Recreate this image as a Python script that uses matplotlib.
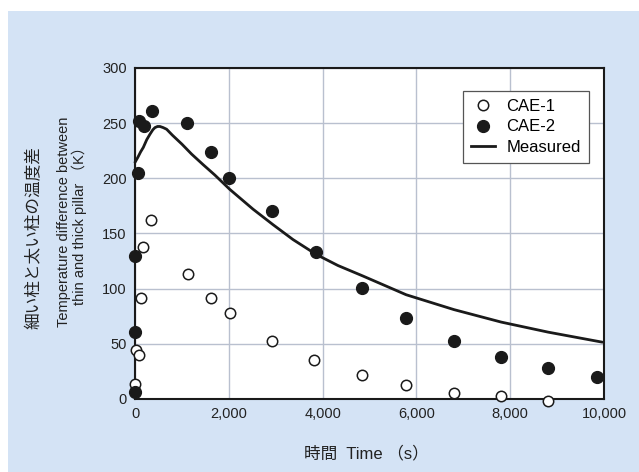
import matplotlib
matplotlib.use("Agg")
import matplotlib.pyplot as plt
from matplotlib.patches import Rectangle
from matplotlib.lines import Line2D

plt.rcParams['font.family'] = ['Liberation Sans', 'Noto Sans CJK JP', 'DejaVu Sans']

# CAE-1 (open circles)
cae1_t = [7, 15, 92, 121, 177, 340, 1121, 1624, 2021, 2930, 3823, 4844, 5787, 6802, 7809, 8809]
cae1_v = [14, 44.5, 40, 91.5, 138, 162, 113, 91.5, 78, 52.5, 35.5, 22, 13, 5.7, 3, -2]

# CAE-2 (filled circles)
cae2_t = [7, 7, 7, 57, 92, 191, 355, 1106, 1631, 2007, 2930, 3865, 4844, 5787, 6802, 7802, 8809, 9844]
cae2_v = [6.4, 61, 130, 205, 252, 247, 261, 250, 224, 200, 170.6, 133.4, 100.6, 73.4, 52.5, 38.5, 28, 20]

# Measured (line)
meas_t = [0, 60, 120, 177, 250, 319, 380, 426, 480, 532, 600, 674, 800, 1000, 1206, 1450, 1702,
          2021, 2518, 2943, 3369, 3865, 4326, 4858, 5781, 6802, 7809, 8809, 9965]
meas_v = [214.5, 219, 224, 228, 235, 240, 244, 246, 247, 247, 246, 244.5, 239, 231, 222, 212.5, 203,
          190, 172, 158, 144.5, 131, 121, 111.5, 94.5, 81, 69.7, 60.6, 51.5]

x_ticks = [0, 2000, 4000, 6000, 8000, 10000]
x_ticklabels = ['0', '2,000', '4,000', '6,000', '8,000', '10,000']
y_ticks = [0, 50, 100, 150, 200, 250, 300]

W, H = 639, 472
fig = plt.figure(figsize=(W / 100, H / 100), dpi=100)
fig.patch.set_facecolor('white')
bg = '#d4e3f5'
fig.patches.append(Rectangle((8 / W, 0), 1 - 8 / W, 1 - 11 / H, transform=fig.transFigure,
                             facecolor=bg, edgecolor='none', zorder=-10))

ax = fig.add_axes([135 / W, 1 - 399 / H, (604 - 135) / W, (399 - 68) / H])
ax.set_facecolor('white')
ax.set_xlim(0, 10000)
ax.set_ylim(0, 300)
ax.set_xticks(x_ticks)
ax.set_xticklabels(x_ticklabels)
ax.set_yticks(y_ticks)
ax.grid(True, color='#b9c0cf', linewidth=1.0)
ax.set_axisbelow(True)
for s in ax.spines.values():
    s.set_color('#1a1a1a')
    s.set_linewidth(1.5)
ax.tick_params(length=0, labelsize=10.5, colors='#222222', pad=6)

ax.plot(meas_t, meas_v, color='#1a1a1a', linewidth=2.0, zorder=3, clip_on=False,
        solid_joinstyle='round', solid_capstyle='round')
ax.plot(cae1_t, cae1_v, linestyle='none', marker='o', markersize=7.5,
        markerfacecolor='white', markeredgecolor='#1a1a1a', markeredgewidth=1.1,
        zorder=4, clip_on=False)
ax.plot(cae2_t, cae2_v, linestyle='none', marker='o', markersize=8.5,
        markerfacecolor='#1a1a1a', markeredgecolor='#1a1a1a',
        zorder=5, clip_on=False)

handles = [
    Line2D([], [], linestyle='none', marker='o', markersize=7.5, markerfacecolor='white',
           markeredgecolor='#1a1a1a', markeredgewidth=1.1),
    Line2D([], [], linestyle='none', marker='o', markersize=8.5, markerfacecolor='#1a1a1a',
           markeredgecolor='#1a1a1a'),
    Line2D([], [], color='#1a1a1a', linewidth=2.0),
]
leg = ax.legend(handles, ['CAE-1', 'CAE-2', 'Measured'], loc='upper right',
                bbox_to_anchor=(0.968, 0.932), fontsize=12, frameon=True, fancybox=False,
                edgecolor='#555555', framealpha=1, handlelength=1.4, handletextpad=0.7,
                borderpad=0.5, labelspacing=0.33, borderaxespad=0)
leg.get_frame().set_linewidth(0.9)

fig.text(366 / W, 1 - 453 / H, '時間  Time （s）', ha='center', va='center', fontsize=12,
         color='#222222')
fig.text(34 / W, 1 - 238 / H, '細い柱と太い柱の温度差', rotation=90, ha='center', va='center',
         fontsize=12, color='#222222')
fig.text(72 / W, 1 - 222 / H, 'Temperature difference between\nthin and thick pillar （K）',
         rotation=90, ha='center', va='center', fontsize=10.5, color='#222222',
         multialignment='center', linespacing=1.05)

fig.savefig('out.png', dpi=100, facecolor=fig.get_facecolor())
